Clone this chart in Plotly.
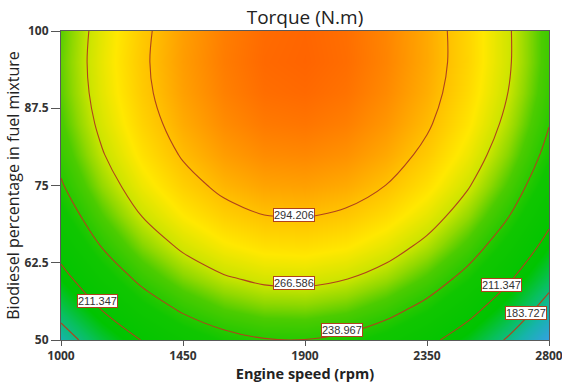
import plotly.graph_objects as go

# Engine speed (rpm) and biodiesel share (%) at which torque was tabulated
speed_rpm = [1000, 1150, 1300, 1450, 1600, 1750, 1900, 2050, 2200, 2350, 2500, 2650, 2800]
biodiesel_pct = [50, 55, 60, 65, 70, 75, 80, 85, 90, 95, 100]

# Torque (N.m), one row per biodiesel share, one column per engine speed
torque_nm = [
    [174.7, 195.4, 212.1, 224.8, 233.4, 238.1, 238.7, 235.3, 227.8, 216.4, 201.0, 181.5, 158.0],
    [191.1, 211.9, 228.7, 241.4, 250.2, 254.9, 255.6, 252.3, 244.9, 233.6, 218.2, 198.8, 175.4],
    [205.6, 226.4, 243.3, 256.1, 265.0, 269.8, 270.6, 267.3, 260.1, 248.8, 233.6, 214.3, 191.0],
    [218.1, 239.1, 256.0, 268.9, 277.9, 282.7, 283.6, 280.5, 273.3, 262.2, 247.0, 227.8, 204.6],
    [228.7, 249.7, 266.8, 279.8, 288.8, 293.8, 294.8, 291.7, 284.6, 273.6, 258.5, 239.4, 216.2],
    [237.4, 258.5, 275.6, 288.7, 297.8, 302.9, 304.0, 301.0, 294.0, 283.0, 268.0, 249.0, 226.0],
    [244.1, 265.3, 282.5, 295.7, 304.9, 310.1, 311.2, 308.4, 301.5, 290.6, 275.7, 256.7, 233.8],
    [248.9, 270.2, 287.5, 300.8, 310.1, 315.3, 316.6, 313.8, 307.0, 296.2, 281.4, 262.5, 239.6],
    [251.8, 273.2, 290.6, 304.0, 313.3, 318.7, 320.0, 317.3, 310.6, 299.9, 285.1, 266.4, 243.6],
    [252.8, 274.3, 291.7, 305.2, 314.6, 320.1, 321.5, 318.9, 312.3, 301.6, 287.0, 268.3, 245.6],
    [251.8, 273.4, 290.9, 304.5, 314.0, 319.5, 321.1, 318.5, 312.0, 301.5, 286.9, 268.3, 245.7],
]

# Contour levels drawn as lines
contour_levels = [183.727, 211.347, 238.967, 266.586, 294.206]

# Tick values on both axes
x_ticks = [1000, 1450, 1900, 2350, 2800]
y_ticks = [50, 62.5, 75, 87.5, 100]
y_tick_text = ["50", "62.5", "75", "87.5", "100"]

# Where each contour label sits: (level, engine speed, biodiesel share)
label_spots = [
    (294.206, 1860, 70.3),
    (266.586, 1860, 59.3),
    (238.967, 2035, 51.6),
    (211.347, 1135, 56.3),
    (211.347, 2625, 58.9),
    (183.727, 2715, 54.4),
]

line_red = "#b0421c"

colorscale = [
    [0.000, "#3a9cec"],
    [0.118, "#16b4aa"],
    [0.206, "#08c05c"],
    [0.294, "#00c400"],
    [0.453, "#10c600"],
    [0.559, "#4ccc00"],
    [0.606, "#90d800"],
    [0.653, "#c8e400"],
    [0.735, "#ffe800"],
    [0.824, "#ffbe00"],
    [0.912, "#ff8c00"],
    [1.000, "#ff5800"],
]

fig = go.Figure()

fig.add_trace(go.Heatmap(
    x=speed_rpm, y=biodiesel_pct, z=torque_nm,
    zsmooth="best", colorscale=colorscale, zmin=155, zmax=325,
    showscale=False, hoverinfo="skip",
))

step = (contour_levels[-1] - contour_levels[0]) / (len(contour_levels) - 1)
fig.add_trace(go.Contour(
    x=speed_rpm, y=biodiesel_pct, z=torque_nm,
    contours=dict(start=contour_levels[0], end=contour_levels[-1] + 1e-6,
                  size=step, coloring="none"),
    line=dict(color=line_red, width=1.1, smoothing=1.0),
    showscale=False, hoverinfo="skip",
))

for level, sx, sy in label_spots:
    fig.add_annotation(
        x=sx, y=sy, text=f"{level:.3f}", showarrow=False,
        font=dict(family="Liberation Sans, Arial, sans-serif", size=11, color="#333333"),
        bgcolor="white", bordercolor=line_red, borderwidth=1, borderpad=0,
    )

axis_common = dict(
    showline=True, linecolor="#5a5a5a", linewidth=1, mirror=True,
    ticks="outside", tickcolor="#555555", tickwidth=1,
    showgrid=False, zeroline=False, automargin=False,
    ticklabeloverflow="allow",
    tickfont=dict(family="Open Sans, sans-serif", size=12, color="#333333", weight="bold"),
)

fig.update_layout(
    width=562, height=387,
    margin=dict(l=61, r=13, t=31, b=47),
    paper_bgcolor="white", plot_bgcolor="white",
    title=dict(text="Torque (N.m)", x=0.5, xref="paper", xanchor="center",
               y=0.955, yref="container", yanchor="middle",
               font=dict(family="Open Sans, sans-serif", size=19, color="#222222")),
    xaxis=dict(range=[1000, 2800], tickvals=x_ticks, ticklen=5,
               title=dict(text="Engine speed (rpm)", standoff=2,
                          font=dict(family="Open Sans, sans-serif", size=14.5,
                                    color="#222222", weight="bold")),
               **axis_common),
    yaxis=dict(range=[50, 100], tickvals=y_ticks, ticktext=y_tick_text, ticklen=9,
               title=dict(text="Biodiesel percentage in fuel mixture", standoff=0,
                          font=dict(family="Open Sans, sans-serif", size=16, color="#222222")),
               **axis_common),
    showlegend=False,
)

fig.write_html("out.html")
